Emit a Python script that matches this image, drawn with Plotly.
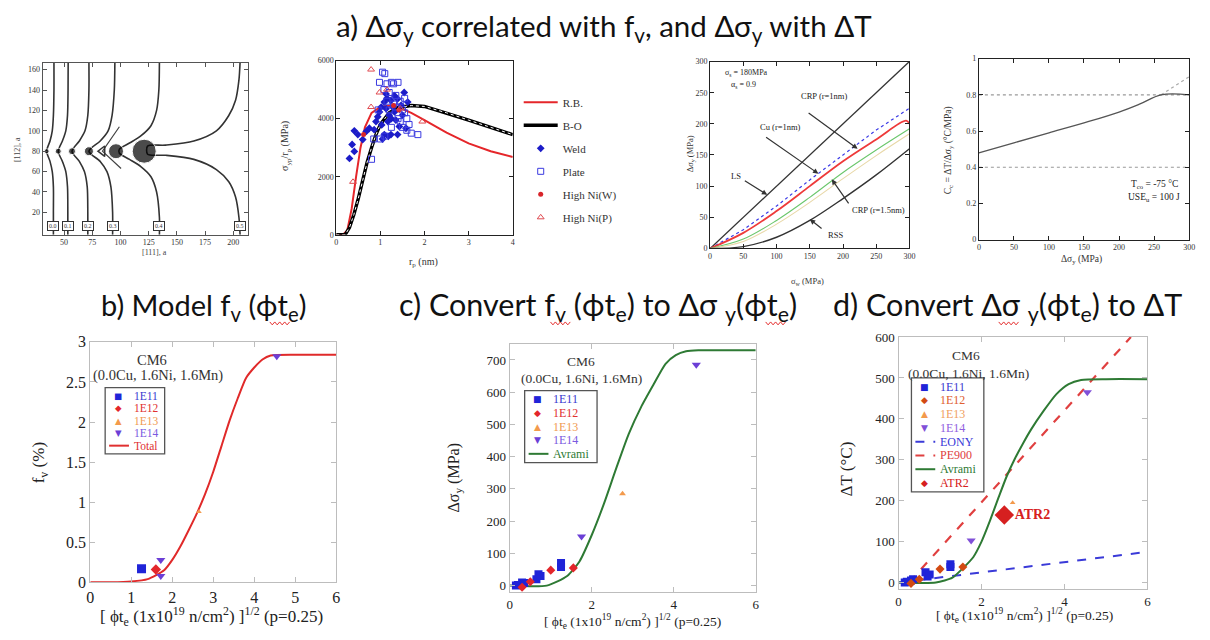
import plotly.graph_objects as go

W, H = 1210, 640
SERIF = "Liberation Serif, Times New Roman, serif"
SANS = "Lato, Open Sans, sans-serif"

# ---------------- a1: dislocation line shapes pinned at obstacles ----------------
disl_y = [167, 140, 115, 100, 90, 80, 70, 60, 45, 20, -2]
line1_x = [41, 41, 40.5, 39.5, 37.5, 34.5, 37.5, 39.5, 40.5, 40.5, 40.5]
line2_x = [53.6, 53.5, 53, 51.5, 48.5, 44.8, 48.5, 51.5, 53, 53.3, 53.3]
line3_x = [72, 72, 71, 68.5, 63.5, 57, 63.5, 68, 70.5, 71, 71]
line4_x = [95, 94.5, 92.5, 89, 82, 72, 82, 88, 91.5, 93, 93]
line5_y = [167, 140, 120, 105, 95, 88, 82, 78, 72, 65, 55, 40, 15, -2]
line5_x = [134.5, 134, 132, 127, 118, 108, 99, 99, 108, 118, 127, 132, 134.5, 134.5]
line6_y = [167, 150, 130, 115, 100, 90, 86, 85, 77, 76, 72, 62, 50, 35, 15, -2]
line6_x = [206, 205, 202, 196, 185, 165, 140, 124, 124, 140, 165, 185, 196, 202, 205, 206]
spoke_x = [99, 84, 100.5]
spoke_y = [104, 80, 63]
obst_x = [34.5, 44.8, 57, 72, 96, 121]
obst_y = [80, 80, 80, 80, 80, 80]
open_obst_x = [84]
open_obst_y = [80]
box_x = [40.5, 53.3, 71, 93, 134.5, 206]
box_labels = ["0.0", "0.1", "0.2", "0.3", "0.4", "0.5"]
a1_xticks = [50, 75, 100, 125, 150, 175, 200]
a1_yticks = [20, 40, 60, 80, 100, 120, 140, 160]

# ---------------- a2: obstacle strength vs precipitate radius ----------------
rb_r = [0, 0.15, 0.25, 0.35, 0.45, 0.55, 0.65, 0.8, 1.0, 1.2, 1.4, 1.7, 2.0, 2.5, 3.0, 3.5, 4.0]
rb_s = [0, 0, 150, 900, 2000, 3000, 3700, 4200, 4400, 4440, 4400, 4200, 3950, 3520, 3150, 2880, 2680]
bo_r = [0, 0.2, 0.3, 0.4, 0.5, 0.6, 0.7, 0.8, 0.9, 1.0, 1.2, 1.4, 1.7, 2.0, 2.5, 3.0, 3.5, 4.0]
bo_s = [0, 0, 250, 700, 1250, 1900, 2500, 3000, 3450, 3800, 4200, 4380, 4450, 4420, 4200, 3950, 3700, 3450]
weld_r = [0.30, 0.36, 0.41, 0.41, 0.49, 0.60, 0.68, 0.75, 0.86, 0.90, 0.94, 0.98, 1.02, 1.03, 1.09,
          1.13, 1.13, 1.17, 1.18, 1.20, 1.24, 1.24, 1.28, 1.32, 1.32, 1.35, 1.39, 1.39, 1.43, 1.47,
          1.50, 1.54, 1.58, 1.62, 1.09, 1.05, 1.15, 1.25]
weld_s = [2630, 3110, 2870, 3580, 3450, 3280, 3560, 3670, 3620, 3900, 4065, 4230, 4400, 3785, 4570,
          4850, 4345, 3900, 3390, 4120, 4625, 3450, 4400, 4230, 4790, 3950, 4680, 3450, 3730, 4460,
          4120, 4900, 3670, 4570, 3450, 3300, 4700, 4000]
plate_r = [0.80, 0.85, 0.95, 0.98, 1.05, 1.10, 1.08, 1.15, 1.20, 1.25, 1.30, 1.35, 1.40, 1.45, 1.50,
           1.55, 1.60, 1.65, 1.70, 1.85, 1.60, 1.50, 1.40, 1.30, 1.20, 1.10, 1.00, 1.25, 1.45, 1.55,
           1.35, 1.15]
plate_s = [2600, 3300, 4300, 5250, 5600, 5550, 5000, 5200, 4900, 5250, 5200, 4800, 5250, 4600, 4300,
           4700, 4000, 3800, 3500, 3450, 3600, 3700, 4000, 4500, 4300, 3400, 3300, 3700, 3900, 4200,
           4400, 4600]
hniw_r = [0.62, 1.30, 1.42]
hniw_s = [3450, 4450, 4300]
hnip_r = [0.79, 0.38, 0.79, 0.98, 1.15, 1.45, 1.95]
hnip_s = [5690, 1825, 4400, 4900, 5000, 4350, 3900]

# ---------------- a3: yield stress increase vs obstacle strength ----------------
sw = [0, 50, 100, 150, 200, 250, 300]
ls_dsy = [0, 50, 100, 150, 200, 250, 300]
cu_dsy = [0, 30, 68, 110, 150, 190, 225]
crp1_sw = [0, 50, 100, 150, 200, 250, 295, 300]
crp1_dsy = [0, 25, 60, 100, 140, 175, 205, 200]
crp15_dsy = [0, 15, 45, 82, 122, 158, 192]
mid_dsy = [0, 11, 39, 74, 112, 149, 184]
rss_dsy = [0, 3, 18, 45, 80, 118, 160]

# ---------------- a4: ΔT / Δσy coefficient ----------------
cc_dsy = [0, 50, 100, 150, 200, 230, 260, 300]
cc_val = [0.48, 0.535, 0.59, 0.645, 0.705, 0.75, 0.80, 0.80]
cc_ext_dsy = [260, 300]
cc_ext_val = [0.80, 0.90]
cc_ref_dsy = [0, 300]
cc_hi = [0.8, 0.8]
cc_lo = [0.4, 0.4]

# ---------------- b/c/d: CM6 fluence series ----------------
fl_11_b = [1.25]
fv_11 = [0.17]
fl_12_b = [1.6]
fv_12 = [0.16]
fl_13_b = [2.65]
fv_13 = [0.88]
fl_14_b = [1.72, 1.72, 4.55]
fv_14 = [0.28, 0.08, 2.82]
total_fl = [0, 0.5, 1.0, 1.4, 1.8, 2.0, 2.2, 2.4, 2.6, 2.8, 3.0, 3.2, 3.4, 3.6, 3.8, 4.0, 4.2, 4.4, 5.0, 6.0]
total_fv = [0, 0, 0.01, 0.04, 0.15, 0.28, 0.45, 0.65, 0.86, 1.1, 1.38, 1.7, 2.02, 2.3, 2.55, 2.68, 2.78, 2.83, 2.84, 2.84]

fl_11 = [0.15, 0.2, 0.3, 0.35, 0.65, 0.7, 0.75, 1.25, 1.25]
dsy_11 = [0, 2, 10, 8, 20, 35, 30, 70, 58]
fl_12 = [0.3, 0.5, 1.0, 1.55]
dsy_12 = [-5, 12, 48, 55]
fl_13 = [2.75]
dsy_13 = [285]
fl_14 = [1.75, 4.55]
dsy_14 = [152, 685]
avr_fl = [0, 0.9, 1.4, 1.7, 2.0, 2.3, 2.6, 2.9, 3.2, 3.5, 3.8, 4.05, 4.3, 4.6, 5.0, 6.0]
avr_dsy = [0, 0, 30, 75, 157, 255, 365, 470, 553, 622, 688, 715, 727, 730, 730, 730]

dt_11 = [0, 2, 5, 8, 25, 15, 20, 45, 38]
dt_12 = [-2, 8, 33, 38]
dt_13 = [195]
dt_14 = [103, 465]
atr2_fl = [2.55]
atr2_dt = [165]
eony_fl = [0, 6]
eony_dt = [0, 75]
pe900_fl = [0.25, 5.6]
pe900_dt = [0, 600]
avr_dt_fl = [0, 0.9, 1.3, 1.55, 1.8, 2.0, 2.2, 2.4, 2.6, 2.8, 3.0, 3.2, 3.5, 3.8, 4.1, 4.4, 5.0, 6.0]
avr_dt = [0, 0, 12, 35, 62, 100, 150, 205, 258, 302, 340, 375, 420, 460, 485, 495, 497, 497]

BLUE = "#1f24d8"
RED = "#e3262b"
ORANGE = "#f39a4c"
PURPLE = "#6b3fd6"
GREEN = "#2e7a34"


def dom_x(a, b):
    return [a / W, b / W]


def dom_y(top, bottom):
    return [1 - bottom / H, 1 - top / H]


fig = go.Figure()


def add(x, y, ax, **kw):
    kw.setdefault("showlegend", False)
    fig.add_trace(go.Scatter(x=x, y=y, xaxis="x" + ax, yaxis="y" + ax, **kw))


# a1 traces
for lx, ly in [(line1_x, disl_y), (line2_x, disl_y), (line3_x, disl_y), (line4_x, disl_y),
               (line5_x, line5_y), (line6_x, line6_y)]:
    add(lx, ly, "", mode="lines", line=dict(color="#333", width=1.6, shape="spline", smoothing=0.8))
add(spoke_x, spoke_y, "", mode="lines", line=dict(color="#444", width=1.2))
obst_marker_px = [5, 6, 7, 9, 15, 24]
add(obst_x, obst_y, "", mode="markers", marker=dict(color="black", size=obst_marker_px))
add(open_obst_x, open_obst_y, "", mode="markers",
    marker=dict(symbol="triangle-left-open", color="#333", size=9, line=dict(width=1.5)))

# a2 traces (native legend at right)
add(rb_r, rb_s, "2", mode="lines", name="R.B.", line=dict(color="#e5262a", width=2),
    showlegend=True, legend="legend", legendgroup="g1")
add(bo_r, bo_s, "2", mode="lines", name="B-O", line=dict(color="black", width=3.4),
    showlegend=True, legend="legend", legendgroup="g2")
add(bo_r, bo_s, "2", mode="lines", line=dict(color="white", width=1, dash="dot"))
add(weld_r, weld_s, "2", mode="markers", name="Weld",
    marker=dict(symbol="diamond", color="#1c1cc8", size=6), showlegend=True, legend="legend", legendgroup="g3")
add(plate_r, plate_s, "2", mode="markers", name="Plate",
    marker=dict(symbol="square-open", color="#3a3ae0", size=6, line=dict(width=1)),
    showlegend=True, legend="legend", legendgroup="g4")
add(hniw_r, hniw_s, "2", mode="markers", name="High Ni(W)",
    marker=dict(symbol="circle", color="#d8242a", size=5), showlegend=True, legend="legend", legendgroup="g5")
add(hnip_r, hnip_s, "2", mode="markers", name="High Ni(P)",
    marker=dict(symbol="triangle-up-open", color="#e04a50", size=6, line=dict(width=1)),
    showlegend=True, legend="legend", legendgroup="g6")

# a3 traces
add(sw, ls_dsy, "3", mode="lines", line=dict(color="#333", width=1.3))
add(sw, cu_dsy, "3", mode="lines", line=dict(color="#3a3ae6", width=1.2, dash="dot"))
add(crp1_sw, crp1_dsy, "3", mode="lines", line=dict(color="#ee3a3a", width=1.8, shape="spline"))
add(sw, crp15_dsy, "3", mode="lines", line=dict(color="#6cc76c", width=1.1, shape="spline"))
add(sw, mid_dsy, "3", mode="lines", line=dict(color="#e8d8a8", width=1.1, shape="spline"))
add(sw, rss_dsy, "3", mode="lines", line=dict(color="#333", width=1.4, shape="spline"))

# a4 traces
add(cc_ref_dsy, cc_hi, "4", mode="lines", line=dict(color="#999", width=1.2, dash="dot"))
add(cc_ref_dsy, cc_lo, "4", mode="lines", line=dict(color="#999", width=1.2, dash="dot"))
add(cc_ext_dsy, cc_ext_val, "4", mode="lines", line=dict(color="#aaa", width=1.2, dash="dot"))
add(cc_dsy, cc_val, "4", mode="lines", line=dict(color="#555", width=1.3, shape="spline"))

# b traces
add(total_fl, total_fv, "5", mode="lines", line=dict(color="#e02a2a", width=2, shape="spline", smoothing=0.6))
add(fl_11_b, fv_11, "5", mode="markers", marker=dict(symbol="square", color=BLUE, size=9))
add(fl_12_b, fv_12, "5", mode="markers", marker=dict(symbol="diamond", color=RED, size=8))
add(fl_13_b, fv_13, "5", mode="markers", marker=dict(symbol="triangle-up", color=ORANGE, size=5))
add(fl_14_b, fv_14, "5", mode="markers", marker=dict(symbol="triangle-down", color=PURPLE, size=8))

# c traces
add(avr_fl, avr_dsy, "6", mode="lines", line=dict(color=GREEN, width=2, shape="spline", smoothing=0.6))
add(fl_11, dsy_11, "6", mode="markers", marker=dict(symbol="square", color=BLUE, size=8))
add(fl_12, dsy_12, "6", mode="markers", marker=dict(symbol="diamond", color=RED, size=7))
add(fl_13, dsy_13, "6", mode="markers", marker=dict(symbol="triangle-up", color=ORANGE, size=6))
add(fl_14, dsy_14, "6", mode="markers", marker=dict(symbol="triangle-down", color=PURPLE, size=8))

# d traces
add(eony_fl, eony_dt, "7", mode="lines", line=dict(color="#3a3ad8", width=2, dash="dash"))
add(pe900_fl, pe900_dt, "7", mode="lines", line=dict(color="#e04040", width=2.2, dash="dash"))
add(avr_dt_fl, avr_dt, "7", mode="lines", line=dict(color=GREEN, width=2, shape="spline", smoothing=0.6))
add(fl_11, dt_11, "7", mode="markers", marker=dict(symbol="square", color=BLUE, size=8))
add(fl_12, dt_12, "7", mode="markers", marker=dict(symbol="diamond", color="#d24a12", size=7))
add(fl_13, dt_13, "7", mode="markers", marker=dict(symbol="triangle-up", color=ORANGE, size=5))
add(fl_14, dt_14, "7", mode="markers", marker=dict(symbol="triangle-down", color="#8050d8", size=8))
add(atr2_fl, atr2_dt, "7", mode="markers+text", marker=dict(symbol="diamond", color="#d62020", size=15),
    text=["ATR2"], textposition="middle right",
    textfont=dict(family=SERIF, size=14, color="#d62020", weight="bold"))


def top_axes(dx, rng, tickvals, anchor, lc="#222"):
    return dict(domain=dx, range=rng, tickvals=tickvals, anchor=anchor, showline=True, linecolor=lc,
                linewidth=1, mirror="ticks", ticks="inside", ticklen=4, tickcolor=lc,
                tickfont=dict(family=SERIF, size=8, color="#333"), showgrid=False, zeroline=False)


def bot_axes(dx, rng, tickvals, anchor, fs):
    return dict(domain=dx, range=rng, tickvals=tickvals, anchor=anchor, showline=True, linecolor="#bdbdbd",
                linewidth=1.3, mirror="ticks", ticks="inside", ticklen=5, tickcolor="#bdbdbd",
                tickfont=dict(family=SERIF, size=fs, color="#222"), showgrid=False, zeroline=False)


layout = dict(
    width=W, height=H, margin=dict(l=0, r=0, t=0, b=0), paper_bgcolor="white", plot_bgcolor="white",
    xaxis=top_axes(dom_x(39, 246), [31, 213], a1_xticks, "y", "#555"),
    yaxis=top_axes(dom_y(56, 233), [-2, 167], a1_yticks, "x", "#555"),
    xaxis2=top_axes(dom_x(335, 513), [0, 4], [0, 1, 2, 3, 4], "y2"),
    yaxis2=top_axes(dom_y(54, 233), [0, 6000], [0, 2000, 4000, 6000], "x2"),
    xaxis3=top_axes(dom_x(712, 913), [0, 300], [0, 50, 100, 150, 200, 250, 300], "y3"),
    yaxis3=top_axes(dom_y(55, 247), [0, 300], [0, 50, 100, 150, 200, 250, 300], "x3"),
    xaxis4=top_axes(dom_x(983, 1195), [0, 300], [0, 50, 100, 150, 200, 250, 300], "y4"),
    yaxis4=top_axes(dom_y(52, 238), [0, 1], [0, 0.2, 0.4, 0.6, 0.8, 1], "x4"),
    xaxis5=bot_axes(dom_x(87, 335), [0, 6], [0, 1, 2, 3, 4, 5, 6], "y5", 16),
    yaxis5=bot_axes(dom_y(343, 590), [0, 3], [0, 0.5, 1, 1.5, 2, 2.5, 3], "x5", 16),
    xaxis6=bot_axes(dom_x(510, 758), [0, 6], [0, 2, 4, 6], "y6", 13),
    yaxis6=bot_axes(dom_y(345, 600), [-20, 750], [0, 100, 200, 300, 400, 500, 600, 700], "x6", 13),
    xaxis7=bot_axes(dom_x(902, 1153), [0, 6], [0, 2, 4, 6], "y7", 13),
    yaxis7=bot_axes(dom_y(338, 597), [-16, 600], [0, 100, 200, 300, 400, 500, 600], "x7", 13),
    legend=dict(x=519 / W, y=1 - 82 / H, xanchor="left", yanchor="top", bgcolor="rgba(0,0,0,0)",
                font=dict(family=SERIF, size=11, color="#333"), tracegroupgap=4, itemwidth=34),
)
fig.update_layout(**layout)

ann = []
shapes = []


def ptext(x, y, text, size, color="#222", family=SERIF, angle=0, xanchor="center", **kw):
    ann.append(dict(x=x / W, y=1 - y / H, xref="paper", yref="paper", text=text, showarrow=False,
                    xanchor=xanchor, yanchor="middle", textangle=angle,
                    font=dict(family=family, size=size, color=color), **kw))


def dtext(ax, x, y, text, size, color="#222", xanchor="center"):
    ann.append(dict(x=x, y=y, xref="x" + ax, yref="y" + ax, text=text, showarrow=False, xanchor=xanchor,
                    yanchor="middle", font=dict(family=SERIF, size=size, color=color)))


def arrow(ax, x0, y0, x1, y1):
    ann.append(dict(x=x1, y=y1, ax=x0, ay=y0, xref="x" + ax, yref="y" + ax, axref="x" + ax,
                    ayref="y" + ax, text="", showarrow=True, arrowhead=2, arrowsize=0.9,
                    arrowwidth=1.2, arrowcolor="#333"))


def squiggle(x0, x1, y):
    # red spell-check style wavy underline
    pts = []
    x = x0
    k = 0
    while x <= x1:
        pts.append((x / W, 1 - (y + (1.5 if k % 2 else -1.5)) / H))
        x += 2.5
        k += 1
    path = "M " + " L ".join(f"{px:.5f},{py:.5f}" for px, py in pts)
    shapes.append(dict(type="path", xref="paper", yref="paper", path=path,
                       line=dict(color="#e53030", width=1)))


# headings
ptext(605, 20, "a) Δσ<sub>y</sub> correlated with f<sub>v</sub>, and Δσ<sub>y</sub> with ΔT", 29.5,
      color="#111", family=SANS)
ptext(201, 307, "b) Model f<sub>v</sub> (ϕt<sub>e</sub>)", 29, color="#111", family=SANS)
ptext(599, 307, "c) Convert f<sub>v</sub> (ϕt<sub>e</sub>) to Δσ <sub>y</sub>(ϕt<sub>e</sub>)", 30.5,
      color="#111", family=SANS)
ptext(1012, 307, "d) Convert Δσ <sub>y</sub>(ϕt<sub>e</sub>) to ΔT", 30.5, color="#111", family=SANS)
squiggle(268, 288, 324)
squiggle(551, 571, 324)
squiggle(768, 790, 324)
squiggle(1003, 1024, 324)

# a1 labels
for bx, bl in zip(box_x, box_labels):
    ann.append(dict(x=bx, y=7, xref="x", yref="y", text=bl, showarrow=False, bgcolor="white",
                    bordercolor="#333", borderwidth=1, borderpad=1,
                    font=dict(family=SERIF, size=6, color="#333")))
ptext(152, 251, "[111], a", 8, color="#444")
ptext(13, 145, "[112], a", 8, color="#444", angle=-90)

# a2 labels
ptext(423, 261, "r<sub>p</sub> (nm)", 10, color="#333")
ptext(284, 142, "σ<sub>yp</sub>/r<sub>p</sub> (MPa)", 10, color="#333", angle=-90)

# a3 labels
dtext("3", 19, 282, "σ<sub>s</sub> = 180MPa", 8, xanchor="left")
dtext("3", 28, 262, "α<sub>s</sub> = 0.9", 8, xanchor="left")
dtext("3", 172, 245, "CRP (r=1nm)", 8.5)
dtext("3", 106, 195, "Cu (r=1nm)", 8.5)
dtext("3", 39, 117, "LS", 8.5)
dtext("3", 254, 61, "CRP (r=1.5nm)", 8.5)
dtext("3", 188, 22, "RSS", 8.5)
arrow("3", 50, 110, 86, 86)
arrow("3", 82, 180, 163, 120)
arrow("3", 146, 219, 222, 160)
arrow("3", 210, 70, 183, 111)
arrow("3", 170, 30, 150, 47)
ptext(810, 281, "σ<sub>w</sub> (MPa)", 8.5, color="#333")
ptext(692, 150, "Δσ<sub>y</sub> (MPa)", 8.5, color="#333", angle=-90)

# a4 labels
dtext("4", 250, 0.305, "T<sub>co</sub> = -75 °C", 9.5)
dtext("4", 250, 0.235, "USE<sub>u</sub> = 100 J", 9.5)
ptext(1086, 258, "Δσ<sub>y</sub> (MPa)", 9.5, color="#333")
ptext(952, 146, "C<sub>c</sub> = ΔT/Δσ<sub>y</sub> (°C/MPa)", 9.5, color="#333", angle=-90)

# bottom panels: composition notes and axis titles
xtitle = "[ ϕt<sub>e</sub> (1x10<sup>19</sup> n/cm<sup>2</sup>) ]<sup>1/2</sup> (p=0.25)"
ptext(149, 362, "CM6", 14.5, color="#333")
ptext(155, 378, "(0.0Cu, 1.6Ni, 1.6Mn)", 14.5, color="#333")
ptext(209, 625, xtitle, 17, color="#222")
ptext(36, 467, "f<sub>v</sub> (%)", 17, color="#222", angle=-90)

ptext(582, 363, "CM6", 13.5, color="#333")
ptext(582, 381, "(0.0Cu, 1.6Ni, 1.6Mn)", 13.5, color="#333")
ptext(634, 630, xtitle, 13.5, color="#222")
ptext(454, 483, "Δσ<sub>y</sub> (MPa)", 16, color="#222", angle=-90)

ptext(970, 357, "CM6", 13.5, color="#333")
ptext(973, 375, "(0.0Cu, 1.6Ni, 1.6Mn)", 13.5, color="#333")
ptext(1029, 624, xtitle, 13.5, color="#222")
ptext(849, 473, "ΔT (°C)", 17, color="#222", angle=-90)


def key_box(entries, left, top, width, height, fs):
    shapes.append(dict(type="rect", xref="paper", yref="paper", x0=left / W, x1=(left + width) / W,
                       y0=1 - (top + height) / H, y1=1 - top / H, line=dict(color="#555", width=1.3),
                       fillcolor="white", layer="above"))
    step = (height - 4) / len(entries)
    for i, (kind, glyph, col, label, tcol) in enumerate(entries):
        yc = top + 2 + step * (i + 0.5)
        if kind == "line":
            shapes.append(dict(type="line", xref="paper", yref="paper", x0=(left + 4) / W,
                               x1=(left + 24) / W, y0=1 - yc / H, y1=1 - yc / H,
                               line=dict(color=col, width=2, dash=glyph), layer="above"))
        else:
            ptext(left + 13, yc, glyph, fs - 3, color=col, family="DejaVu Sans")
        ptext(left + 27, yc, label, fs, color=tcol, xanchor="left")


key_box([("m", "■", BLUE, "1E11", "#3a3ad0"), ("m", "◆", RED, "1E12", "#e03030"),
         ("m", "▲", ORANGE, "1E13", "#f09a50"), ("m", "▼", PURPLE, "1E14", "#7a5ae0"),
         ("line", "solid", "#e03030", "Total", "#e03030")], 102, 390, 60, 68, 11.5)
key_box([("m", "■", BLUE, "1E11", "#3a3ad0"), ("m", "◆", RED, "1E12", "#e03030"),
         ("m", "▲", ORANGE, "1E13", "#f09a50"), ("m", "▼", PURPLE, "1E14", "#7a5ae0"),
         ("line", "solid", GREEN, "Avrami", GREEN)], 525, 393, 73, 74, 12)
key_box([("m", "■", BLUE, "1E11", "#3a3ad0"), ("m", "◆", "#d24a12", "1E12", "#e06030"),
         ("m", "▲", ORANGE, "1E13", "#f0a060"), ("m", "▼", "#8050d8", "1E14", "#9060e0"),
         ("line", "dash", "#3a3ad8", "EONY", "#3a3ad8"), ("line", "dash", "#e04040", "PE900", "#e04040"),
         ("line", "solid", GREEN, "Avrami", GREEN), ("m", "◆", "#d62020", "ATR2", "#d62020")],
        915, 380, 73, 117, 12)

fig.update_layout(annotations=ann, shapes=shapes)
fig.write_html("out.html")
